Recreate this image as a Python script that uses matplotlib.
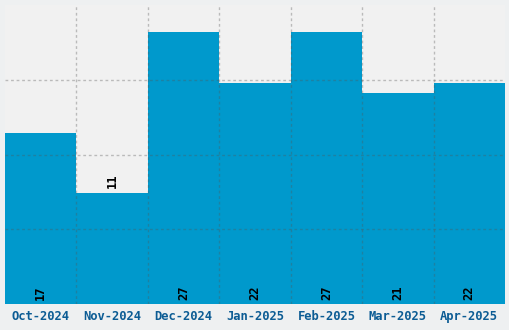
import matplotlib.pyplot as plt
import numpy as np

# === Datos ===
meses = ["Oct-2024", "Nov-2024", "Dec-2024", "Jan-2025", "Feb-2025", "Mar-2025", "Apr-2025"]
valores = [17, 11, 27, 22, 27, 21, 22]

# === Figura ===
fig = plt.figure(figsize=(5.1, 3.3), dpi=100, facecolor="#eef0f1")
ax = fig.add_axes([5 / 510, 26 / 330, 500 / 510, 299 / 330])
ax.set_facecolor("#f1f1f1")

x = np.arange(len(meses))
ax.bar(x, valores, width=1.0, color="#0099cc", zorder=1)

ymax = 29.7
ax.set_xlim(-0.5, len(meses) - 0.5)
ax.set_ylim(0, ymax)

# grilla por encima de las barras
ax.set_yticks(np.linspace(0, ymax, 5)[1:-1])
ax.set_xticks(x[:-1] + 0.5, minor=True)
ax.grid(True, which="major", axis="y", color="#555555", alpha=0.35,
        linestyle=(0, (2, 2)), linewidth=1, zorder=3)
ax.grid(True, which="minor", axis="x", color="#555555", alpha=0.35,
        linestyle=(0, (2, 2)), linewidth=1, zorder=3)
ax.set_axisbelow(False)
ax.tick_params(axis="y", left=False, labelleft=False)
ax.tick_params(axis="x", which="both", bottom=False)

ax.set_xticks(x)
ax.set_xticklabels(meses, fontfamily="DejaVu Sans Mono", fontweight="bold",
                   fontsize=8.7, color="#0c5c94")
ax.tick_params(axis="x", pad=1)

for s in ax.spines.values():
    s.set_visible(False)

# etiquetas de valores
for xi, v in zip(x, valores):
    if v < 12:
        ax.annotate(str(v), (xi, v), xytext=(0, 4), textcoords="offset points",
                    rotation=90, ha="center", va="bottom",
                    fontfamily="DejaVu Sans Mono", fontweight="bold", fontsize=8.7, zorder=4)
    else:
        ax.annotate(str(v), (xi, 0), xytext=(0, 3), textcoords="offset points",
                    rotation=90, ha="center", va="bottom",
                    fontfamily="DejaVu Sans Mono", fontweight="bold", fontsize=8.7, zorder=4)

fig.savefig("out.png", dpi=100, facecolor=fig.get_facecolor())
